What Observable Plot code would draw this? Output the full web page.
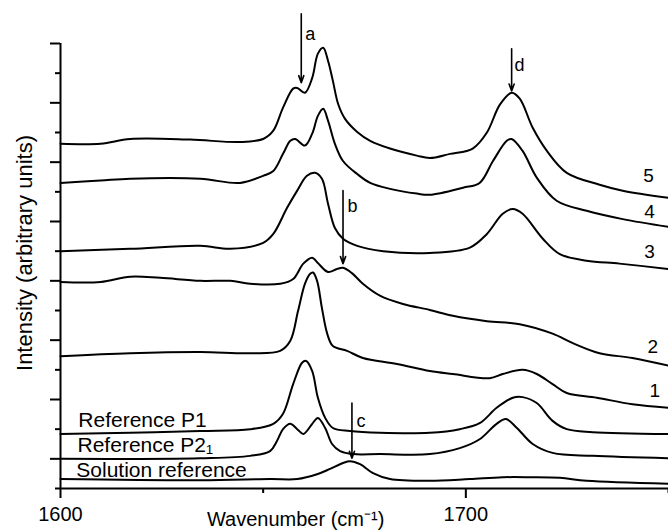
<!DOCTYPE html>
<html>
<head>
<meta charset="utf-8">
<script src="https://cdn.jsdelivr.net/npm/d3@7"></script>
<script src="https://cdn.jsdelivr.net/npm/@observablehq/plot@0.6"></script>
<style>
  html, body { margin: 0; padding: 0; background: #fff; }
  #chart svg { display: block; }
</style>
</head>
<body>
<div id="chart"></div>
<script>
// Spectra: [wavenumber (cm-1), intensity (arbitrary units, offset)]
const curve5 = [[1600,5.81],[1609.9,5.81],[1617.2,5.89],[1632,5.88],[1644.3,5.84],[1650,5.89],[1652.5,6.03],[1654.9,6.42],[1657.4,6.74],[1658.4,6.75],[1660.3,6.67],[1662.1,6.92],[1663.5,7.33],[1664.8,7.43],[1666,7.21],[1667.2,6.87],[1668.5,6.48],[1670.2,6.23],[1673.2,6.01],[1676.4,5.86],[1681.3,5.73],[1687.9,5.61],[1691.1,5.57],[1696.1,5.64],[1701.7,5.73],[1705.2,6.0],[1708.4,6.47],[1711.3,6.67],[1713.3,6.57],[1716.5,6.08],[1720,5.69],[1724.9,5.32],[1733,5.12],[1738.7,5.02],[1750,4.9]];
const curve4 = [[1600,5.15],[1609.9,5.19],[1617.2,5.22],[1634.5,5.22],[1644.3,5.15],[1650,5.27],[1652.5,5.35],[1654.9,5.64],[1656.7,5.86],[1657.9,5.89],[1660.3,5.78],[1662.1,5.98],[1663.5,6.28],[1664.8,6.4],[1666,6.2],[1667.7,5.81],[1669.7,5.52],[1673.2,5.3],[1676.4,5.15],[1681.3,5.05],[1687.9,4.97],[1691.1,4.95],[1699.3,5.07],[1703.4,5.15],[1706.7,5.52],[1710.1,5.86],[1711.3,5.89],[1714,5.69],[1717.5,5.24],[1722.4,4.85],[1729.8,4.68],[1738.7,4.54],[1750,4.41]];
const curve3 = [[1600,4.0],[1617.2,4.04],[1634.5,4.09],[1641.9,4.04],[1650,4.14],[1652.5,4.29],[1655.9,4.73],[1658.4,5.02],[1660.8,5.27],[1662.8,5.32],[1664.5,5.22],[1666,4.8],[1667.7,4.39],[1669.7,4.21],[1673.2,4.09],[1679.6,4.0],[1691.1,3.97],[1701,4.06],[1705.2,4.29],[1709.1,4.63],[1711.6,4.71],[1714,4.63],[1719,4.21],[1723.2,3.95],[1729.8,3.84],[1737.9,3.79],[1750,3.7]];
const curve2 = [[1600,3.48],[1609.9,3.48],[1617.2,3.57],[1624.6,3.55],[1634.5,3.5],[1641.9,3.5],[1646.8,3.45],[1654.2,3.45],[1657.4,3.53],[1659.9,3.79],[1662.1,3.89],[1663.5,3.8],[1666,3.65],[1668.2,3.7],[1669.7,3.72],[1671.9,3.63],[1674.6,3.45],[1678.8,3.25],[1684.5,3.11],[1691.1,3.01],[1696.8,2.91],[1705.2,2.82],[1713.3,2.77],[1721.4,2.61],[1726.4,2.45],[1733,2.28],[1741.1,2.2],[1750,2.07]];
const curve1 = [[1600,2.23],[1617.2,2.28],[1634.5,2.3],[1646.8,2.28],[1654.2,2.32],[1656.7,2.49],[1658.6,2.99],[1660.3,3.45],[1661.6,3.62],[1662.3,3.64],[1663.3,3.5],[1664.5,3.04],[1665.8,2.61],[1667.2,2.4],[1670.7,2.32],[1674.6,2.2],[1683,2.1],[1691.1,1.98],[1696.8,1.93],[1705.9,1.86],[1709.1,1.93],[1714,2.0],[1717.5,1.93],[1721.4,1.76],[1724.9,1.61],[1732.3,1.53],[1741.1,1.42],[1750,1.36]];
const refP1 = [[1600,0.92],[1617.2,0.94],[1634.5,0.97],[1646.8,1.0],[1652.5,1.09],[1654.9,1.26],[1657.4,1.76],[1659.6,2.12],[1660.6,2.15],[1662.1,1.98],[1663.5,1.53],[1665.3,1.19],[1667.2,1.02],[1671.4,0.97],[1678.8,0.94],[1691.1,0.94],[1698.5,1.0],[1703.4,1.1],[1707.6,1.36],[1711.6,1.53],[1714,1.54],[1717.5,1.44],[1721.4,1.14],[1724.9,1.0],[1731.3,0.95],[1750,0.92]];
const refP21 = [[1600,0.5],[1634.5,0.51],[1646.8,0.55],[1651.7,0.63],[1653.4,0.8],[1654.9,1.0],[1656.7,1.09],[1658.4,1.0],[1659.9,0.92],[1662.1,1.09],[1663.5,1.19],[1665.3,1.02],[1667,0.75],[1669,0.63],[1672.2,0.58],[1678.8,0.58],[1691.1,0.58],[1698.5,0.68],[1703.4,0.83],[1707.6,1.09],[1709.9,1.17],[1712.6,1.02],[1716.5,0.75],[1721.4,0.6],[1731.3,0.55],[1750,0.51]];
const solutionRef = [[1600,0.16],[1634.5,0.14],[1651.7,0.16],[1658.4,0.16],[1663.3,0.24],[1666.5,0.33],[1669.7,0.43],[1671.4,0.46],[1673.9,0.41],[1677.1,0.26],[1681.3,0.16],[1691.1,0.13],[1701,0.16],[1709.1,0.19],[1715.8,0.19],[1723.2,0.18],[1729.8,0.13],[1750,0.08]];

const spectra = [curve5, curve4, curve3, curve2, curve1, refP1, refP21, solutionRef];

// Tick values
const xMajorTicks = [1600, 1700];
const xMinorTicks = [1650, 1750];
const yMajorTicks = [0.5, 1.5, 2.5, 3.5, 4.5, 5.5, 6.5, 7.5];
const yMinorTicks = [0, 1, 2, 3, 4, 5, 6, 7];

// Annotations
const seriesLabels = [
  {text: "5", x: 1745.1, y: 5.27},
  {text: "4", x: 1745.3, y: 4.66},
  {text: "3", x: 1745.3, y: 3.98},
  {text: "2", x: 1746.1, y: 2.39},
  {text: "1", x: 1746.6, y: 1.64}
];
const referenceLabels = [
  {text: "Reference P1", x: 1604.4, y: 1.15},
  {text: "Reference P2\u2081", x: 1604.2, y: 0.73},
  {text: "Solution reference", x: 1603.9, y: 0.31}
];
const arrows = [
  {name: "a", x: 1659.4, y1: 8.0, y2: 6.84, lx: 1660.4, ly: 7.65},
  {name: "d", x: 1711.3, y1: 7.41, y2: 6.70, lx: 1712.0, ly: 7.13},
  {name: "b", x: 1669.7, y1: 5.02, y2: 3.79, lx: 1670.8, ly: 4.75},
  {name: "c", x: 1671.9, y1: 1.44, y2: 0.51, lx: 1673.0, ly: 1.14}
];

const font = "Liberation Sans, Arial, Helvetica, sans-serif";

const chart = Plot.plot({
  width: 668,
  height: 531,
  marginTop: 43,
  marginBottom: 43,
  marginLeft: 60,
  marginRight: 0,
  style: {fontFamily: font, background: "#fff", color: "#000", overflow: "visible"},
  x: {domain: [1600, 1750]},
  y: {domain: [0, 7.5]},
  marks: [
    // axes
    Plot.axisX({ticks: xMajorTicks, tickSize: 10, strokeWidth: 2, label: null, tickFormat: () => ""}),
    Plot.axisX({ticks: xMinorTicks, tickSize: 5, strokeWidth: 2, label: null, tickFormat: () => ""}),
    Plot.text(xMajorTicks, {x: d => d, text: d => String(d), frameAnchor: "bottom", lineAnchor: "middle", dy: 25.7, fontSize: 20, fill: "#000"}),
    Plot.axisY({ticks: yMajorTicks, tickSize: 10, strokeWidth: 2, label: null, tickFormat: () => ""}),
    Plot.axisY({ticks: yMinorTicks, tickSize: 5, strokeWidth: 2, label: null, tickFormat: () => ""}),
    Plot.ruleX([1600], {y1: 0, y2: 7.5, strokeWidth: 2}),
    Plot.ruleY([0], {strokeWidth: 2}),
    // spectra
    ...spectra.map(s => Plot.line(s, {x: d => d[0], y: d => d[1], curve: "catmull-rom", stroke: "#000", strokeWidth: 2})),
    // arrows
    Plot.arrow(arrows, {x1: "x", x2: "x", y1: "y1", y2: "y2", stroke: "#000", strokeWidth: 1.6, headLength: 7, headAngle: 40}),
    Plot.text(arrows, {x: "lx", y: "ly", text: "name", textAnchor: "start", fontSize: 18, fill: "#000"}),
    // labels
    Plot.text(seriesLabels, {x: "x", y: "y", text: "text", fontSize: 19, fill: "#000"}),
    Plot.text(referenceLabels, {x: "x", y: "y", text: "text", textAnchor: "start", fontSize: 21, fill: "#000"}),
    // axis titles
    Plot.text(["Wavenumber (cm⁻¹)"], {x: 1658, frameAnchor: "bottom", lineAnchor: "middle", dy: 31, text: d => d, fontSize: 20, fill: "#000"}),
    Plot.text(["Intensity (arbitrary units)"], {frameAnchor: "left", textAnchor: "middle", lineAnchor: "middle", rotate: -90, dx: -36, dy: -13, text: d => d, fontSize: 22, fill: "#000"})
  ]
});

document.getElementById("chart").appendChild(chart);
</script>
</body>
</html>
